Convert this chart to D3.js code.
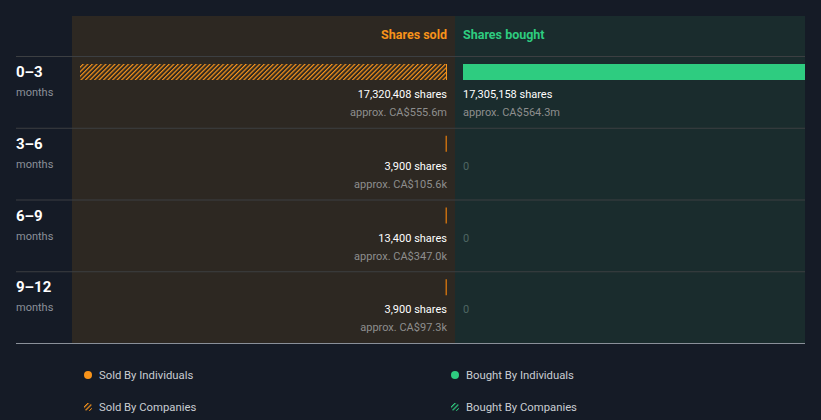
<!DOCTYPE html>
<html>
<head>
<meta charset="utf-8">
<script src="https://cdn.jsdelivr.net/npm/d3@7"></script>
<style>
  body { margin: 0; background: #151b26; }
  svg { display: block; font-family: Roboto, "Noto Sans", sans-serif; }
</style>
</head>
<body>
<svg id="chart" width="821" height="420"></svg>
<script>
// Data
const periods = ["0\u20133", "3\u20136", "6\u20139", "9\u201312"];
const sharesSold = [17320408, 3900, 13400, 3900];
const soldValue = ["CA$555.6m", "CA$105.6k", "CA$347.0k", "CA$97.3k"];
const sharesBought = [17305158, 0, 0, 0];
const boughtValue = ["CA$564.3m", "", "", ""];
// sold by companies in the latest period, the rest by individuals
const soldByCompanies = [true, false, false, false];

const width = 821;
const height = 420;
const svg = d3.select("#chart");

const orange = "#f7931a";
const green = "#2ecc80";

const defs = svg.append("defs");
function hatch(id, color, bg, size) {
  const p = defs.append("pattern")
    .attr("id", id)
    .attr("patternUnits", "userSpaceOnUse")
    .attr("width", size).attr("height", size)
    .attr("patternTransform", "rotate(45)");
  p.append("rect").attr("width", size).attr("height", size).attr("fill", bg);
  p.append("rect").attr("width", 1.2).attr("height", size).attr("fill", color);
}
hatch("hatchSold", orange, "#2d2822", 3.2);
hatch("hatchBought", green, "#151b26", 3.2);
hatch("hatchSoldLegend", orange, "#151b26", 3.2);

const midX = 455;
const panelTop = 16, headerBottom = 56, panelBottom = 343;

// panels
svg.append("rect").attr("x", 72).attr("y", panelTop).attr("width", midX - 72).attr("height", panelBottom - panelTop).attr("fill", "#2d2822");
svg.append("rect").attr("x", midX).attr("y", panelTop).attr("width", 805 - midX).attr("height", panelBottom - panelTop).attr("fill", "#1a2c2d");

defs.append("clipPath").attr("id", "boughtClip")
  .append("rect").attr("x", midX).attr("y", 0).attr("width", 805 - midX).attr("height", 100);

// scales
const y = d3.scaleBand().domain(periods).range([headerBottom, panelBottom]);
const maxShares = d3.max(sharesSold.concat(sharesBought));
const xLen = d3.scaleLinear().domain([0, maxShares]).range([0, 367]);

// headers
svg.append("text").attr("x", midX - 8).attr("y", 39).attr("text-anchor", "end")
  .attr("fill", orange).attr("font-size", 12.5).attr("font-weight", 700).text("Shares sold");
svg.append("text").attr("x", midX + 8).attr("y", 39)
  .attr("fill", green).attr("font-size", 12.5).attr("font-weight", 700).text("Shares bought");

// row separators
svg.selectAll("line.sep")
  .data(periods)
  .enter().append("line")
  .attr("class", "sep")
  .attr("x1", 16).attr("x2", 805)
  .attr("y1", d => y(d) + 0.5).attr("y2", d => y(d) + 0.5)
  .attr("stroke", "#3c3f42").attr("stroke-width", 1);
svg.append("line").attr("x1", 16).attr("x2", 805).attr("y1", panelBottom + 0.5).attr("y2", panelBottom + 0.5)
  .attr("stroke", "#8a9099").attr("stroke-width", 1);

const rows = svg.selectAll("g.row")
  .data(periods)
  .enter().append("g")
  .attr("class", "row")
  .attr("transform", d => `translate(0,${y(d)})`);

// row labels
rows.append("text").attr("x", 16).attr("y", 21)
  .attr("fill", "#ffffff").attr("font-size", 15).attr("font-weight", 700).text(d => d);
rows.append("text").attr("x", 16).attr("y", 40)
  .attr("fill", "#8b9099").attr("font-size", 11).text("months");

// sold bars
rows.append("rect")
  .attr("x", (d, i) => midX - 8 - Math.max(1.5, xLen(sharesSold[i])))
  .attr("y", 8)
  .attr("width", (d, i) => Math.max(1.5, xLen(sharesSold[i])))
  .attr("height", 16)
  .attr("fill", (d, i) => soldByCompanies[i] ? "url(#hatchSold)" : "#c46d10");
// right edge of hatched bar
rows.filter((d, i) => soldByCompanies[i]).append("rect")
  .attr("x", midX - 9).attr("y", 8).attr("width", 1).attr("height", 16).attr("fill", orange);

// bought bars
rows.append("rect")
  .attr("clip-path", "url(#boughtClip)")
  .attr("x", midX + 8)
  .attr("y", 8)
  .attr("width", (d, i) => xLen(sharesBought[i]))
  .attr("height", 16)
  .attr("fill", green);

const fmt = d3.format(",");

// sold labels
rows.append("text").attr("x", midX - 8).attr("y", 42).attr("text-anchor", "end")
  .attr("fill", "#ffffff").attr("font-size", 11)
  .text((d, i) => fmt(sharesSold[i]) + " shares");
rows.append("text").attr("x", midX - 8).attr("y", 60).attr("text-anchor", "end")
  .attr("fill", "#8e8e8e").attr("font-size", 11)
  .text((d, i) => "approx. " + soldValue[i]);

// bought labels
rows.append("text").attr("x", midX + 8).attr("y", 42)
  .attr("fill", (d, i) => sharesBought[i] ? "#ffffff" : "#4f6663")
  .attr("font-size", 11)
  .text((d, i) => sharesBought[i] ? fmt(sharesBought[i]) + " shares" : "0");
rows.append("text").attr("x", midX + 8).attr("y", 60)
  .attr("fill", "#8e8e8e").attr("font-size", 11)
  .text((d, i) => sharesBought[i] ? "approx. " + boughtValue[i] : "");

// legend
const legendItems = [
  { label: "Sold By Individuals", x: 88, y: 375, fill: orange },
  { label: "Bought By Individuals", x: 455, y: 375, fill: green },
  { label: "Sold By Companies", x: 88, y: 407, fill: "url(#hatchSoldLegend)" },
  { label: "Bought By Companies", x: 455, y: 407, fill: "url(#hatchBought)" }
];
const lg = svg.selectAll("g.legend")
  .data(legendItems)
  .enter().append("g")
  .attr("class", "legend")
  .attr("transform", d => `translate(${d.x},${d.y})`);
lg.append("circle").attr("r", 4).attr("fill", d => d.fill);
lg.append("text").attr("x", 11).attr("dy", "0.35em")
  .attr("fill", "#c9cdd2").attr("font-size", 11.3).text(d => d.label);
</script>
</body>
</html>
